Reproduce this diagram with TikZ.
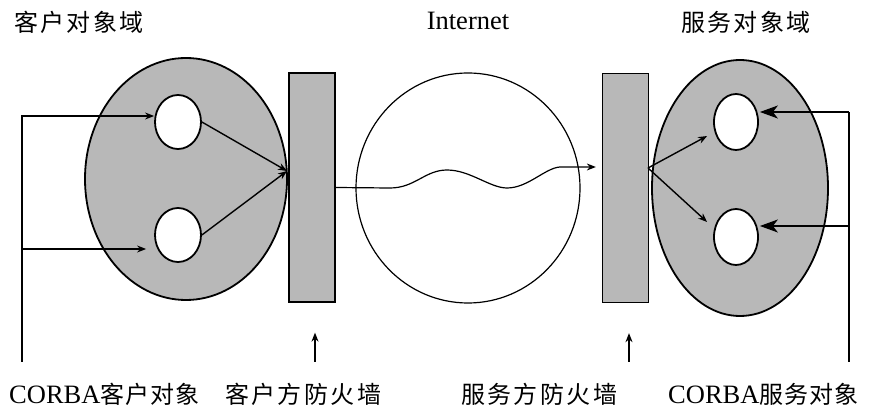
\documentclass[tikz,border=0pt]{standalone}
\usepackage{fontspec}
\setmainfont{Liberation Serif}
\newfontfamily\cjk[LetterSpace=10]{Noto Sans CJK SC}
\newfontfamily\cjknarrow[LetterSpace=4]{Noto Sans CJK SC}
\usetikzlibrary{arrows.meta,shapes.geometric}
\begin{document}
\begin{tikzpicture}[x=1pt,y=-1pt,
  domainbox/.style={ellipse,draw,line width=1.8pt,fill=black!28,inner sep=0pt},
  objbox/.style={ellipse,draw,line width=1.8pt,fill=white,inner sep=0pt,minimum width=46pt,minimum height=54pt},
  wallbox/.style={rectangle,draw,line width=1.3pt,fill=black!28,inner sep=0pt,minimum width=46pt,minimum height=229pt},
  conn/.style={line width=1.4pt},
  arr/.style={conn,-{Stealth[length=9pt,width=7pt]}},
  bigarr/.style={line width=1.6pt,-{Stealth[length=18pt,width=13pt,inset=5pt]}},
  lab/.style={inner sep=0pt,anchor=west,font=\fontsize{24}{28}\selectfont},
  latin/.style={font=\fontsize{26.5}{30}\selectfont},
]
\useasboundingbox (0,0) rectangle (878,419);

% client side
\node[domainbox,minimum width=202pt,minimum height=242pt] (cdom) at (186,179) {};
\node[objbox] (c1) at (178,122) {};
\node[objbox] (c2) at (178,235) {};
\node[wallbox] (cfw) at (312,187.5) {};

% internet
\node[ellipse,draw,line width=1.2pt,inner sep=0pt,minimum width=224pt,minimum height=230pt] (net) at (468,188) {};

% server side
\node[wallbox] (sfw) at (625.5,188) {};
\node[domainbox,minimum width=176pt,minimum height=256pt] (sdom) at (740,188) {};
\node[objbox,minimum width=44pt,minimum height=56pt] (s1) at (736,122) {};
\node[objbox,minimum width=44pt,minimum height=56pt] (s2) at (736,237) {};

% client connectors
\coordinate (cjoin) at (287,171);
\draw[arr] (c1.east) -- (cjoin);
\draw[arr] (c2.east) -- (cjoin);
\coordinate (lbot) at (22,362);
\coordinate (lmid) at (22,249);
\draw[arr] (lbot) |- ([yshift=6pt]c1.west);
\draw[arr] (lmid) -- ([xshift=-8pt,yshift=-14pt]c2.west);

% server connectors
\coordinate (sjoin) at (648,168);
\draw[arr] (sjoin) -- ([xshift=-6pt,yshift=-14pt]s1.west);
\draw[arr] (sjoin) -- ([xshift=-6pt,yshift=15pt]s2.west);
\coordinate (rbot) at (849,362);
\coordinate (rtop) at (849,112);
\coordinate (rmid) at (849,226);
\draw[conn] (rbot) -- (rtop);
\draw[bigarr] (rtop) -- ([xshift=1pt,yshift=10pt]s1.east);
\draw[bigarr] (rmid) -- ([xshift=1pt,yshift=11pt]s2.east);

% wave through the internet
\draw[arr,line width=1.2pt] (cfw.east) -- (390,188)
  .. controls (415,188) and (425,170) .. (447,170)
  .. controls (470,170) and (490,188) .. (507,188)
  .. controls (528,188) and (545,168) .. (560,167)
  -- ([xshift=-6pt,yshift=21pt]sfw.west);

% labels
\node[lab] (t1) at (14,22) {\cjk 客户对象域};
\node[lab,latin,anchor=center] (t2) at (468,21) {Internet};
\node[lab] (t3) at (681,22) {\cjk 服务对象域};
\node[lab] (b1) at (9,394) {{\fontsize{26.5}{30}\selectfont CORBA}{\cjknarrow 客户对象}};
\node[lab] (b2) at (225,394) {\cjk 客户方防火墙};
\node[lab] (b3) at (461,394) {\cjk 服务方防火墙};
\node[lab] (b4) at (668,394) {{\fontsize{26.5}{30}\selectfont CORBA}{\cjknarrow 服务对象}};

% firewall pointers
\coordinate (p1) at (315,362);
\coordinate (p2) at (629,362);
\draw[arr] (p1) -- ([xshift=3pt,yshift=-30pt]cfw.south);
\draw[arr] (p2) -- ([xshift=3.5pt,yshift=-30pt]sfw.south);
\end{tikzpicture}
\end{document}
